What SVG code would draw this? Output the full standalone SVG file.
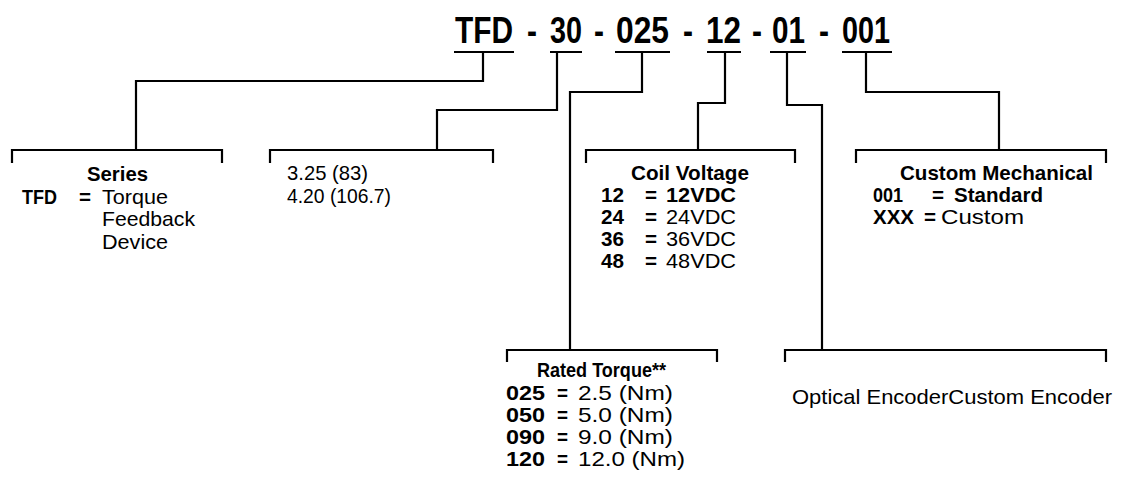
<svg xmlns="http://www.w3.org/2000/svg" width="1131" height="490" viewBox="0 0 1131 490">
<style>
text{font-family:"Liberation Sans",Arial,sans-serif;font-size:21px;fill:#000}
.h{font-size:37px;font-weight:bold}
.b{font-weight:bold}
.ln{fill:none;stroke:#000;stroke-width:2.2;stroke-linecap:butt;stroke-linejoin:miter}
</style>
<rect width="1131" height="490" fill="#fff"/>
<g id="header">
<text class="h" x="455" y="43" textLength="58" lengthAdjust="spacingAndGlyphs">TFD</text>
<text class="h" x="532" y="43" text-anchor="middle" textLength="10" lengthAdjust="spacingAndGlyphs">-</text>
<text class="h" x="550" y="43" textLength="32" lengthAdjust="spacingAndGlyphs">30</text>
<text class="h" x="599" y="43" text-anchor="middle" textLength="10" lengthAdjust="spacingAndGlyphs">-</text>
<text class="h" x="616" y="43" textLength="53" lengthAdjust="spacingAndGlyphs">025</text>
<text class="h" x="688" y="43" text-anchor="middle" textLength="10" lengthAdjust="spacingAndGlyphs">-</text>
<text class="h" x="706" y="43" textLength="35" lengthAdjust="spacingAndGlyphs">12</text>
<text class="h" x="757" y="43" text-anchor="middle" textLength="10" lengthAdjust="spacingAndGlyphs">-</text>
<text class="h" x="772" y="43" textLength="33" lengthAdjust="spacingAndGlyphs">01</text>
<text class="h" x="824" y="43" text-anchor="middle" textLength="10" lengthAdjust="spacingAndGlyphs">-</text>
<text class="h" x="842" y="43" textLength="48" lengthAdjust="spacingAndGlyphs">001</text>
</g>
<g id="connectors" class="ln">
<path class="ln" d="M454,52H514M550,52H582M615,52H670M707,52H741M770,52H806M842,52H892"/>
<path class="ln" d="M483,52V81H136V150"/>
<path class="ln" d="M557,52V110H437V150"/>
<path class="ln" d="M642,52V92H570V350"/>
<path class="ln" d="M725,52V103H698V150"/>
<path class="ln" d="M787,52V105H822V350"/>
<path class="ln" d="M866,52V92H999V150"/>
</g>
<g id="series">
<path class="ln" d="M12,163V150H222V163"/>
<text class="b" x="87" y="181" textLength="61" lengthAdjust="spacingAndGlyphs">Series</text>
<text class="b" x="22" y="204" textLength="35" lengthAdjust="spacingAndGlyphs">TFD</text>
<text class="b" x="79" y="204" textLength="12" lengthAdjust="spacingAndGlyphs">=</text>
<text x="102" y="204" textLength="66" lengthAdjust="spacingAndGlyphs">Torque</text>
<text x="102" y="226" textLength="93" lengthAdjust="spacingAndGlyphs">Feedback</text>
<text x="102" y="249" textLength="66" lengthAdjust="spacingAndGlyphs">Device</text>
</g>
<g id="size">
<path class="ln" d="M270,163V150H493V163"/>
<text x="287" y="180" textLength="81" lengthAdjust="spacingAndGlyphs">3.25 (83)</text>
<text x="287" y="203" textLength="104" lengthAdjust="spacingAndGlyphs">4.20 (106.7)</text>
</g>
<g id="coil-voltage">
<path class="ln" d="M586,163V150H795V163"/>
<text class="b" x="631" y="180" textLength="118" lengthAdjust="spacingAndGlyphs">Coil Voltage</text>
<text class="b" x="601" y="202" textLength="23" lengthAdjust="spacingAndGlyphs">12</text>
<text class="b" x="645" y="202" textLength="12" lengthAdjust="spacingAndGlyphs">=</text>
<text class="b" x="666" y="202" textLength="70" lengthAdjust="spacingAndGlyphs">12VDC</text>
<text class="b" x="601" y="224" textLength="23" lengthAdjust="spacingAndGlyphs">24</text>
<text class="b" x="645" y="224" textLength="12" lengthAdjust="spacingAndGlyphs">=</text>
<text x="666" y="224" textLength="70" lengthAdjust="spacingAndGlyphs">24VDC</text>
<text class="b" x="601" y="246" textLength="23" lengthAdjust="spacingAndGlyphs">36</text>
<text class="b" x="645" y="246" textLength="12" lengthAdjust="spacingAndGlyphs">=</text>
<text x="666" y="246" textLength="70" lengthAdjust="spacingAndGlyphs">36VDC</text>
<text class="b" x="601" y="268" textLength="23" lengthAdjust="spacingAndGlyphs">48</text>
<text class="b" x="645" y="268" textLength="12" lengthAdjust="spacingAndGlyphs">=</text>
<text x="666" y="268" textLength="70" lengthAdjust="spacingAndGlyphs">48VDC</text>
</g>
<g id="custom-mechanical">
<path class="ln" d="M856,163V150H1106V163"/>
<text class="b" x="900" y="180" textLength="193" lengthAdjust="spacingAndGlyphs">Custom Mechanical</text>
<text class="b" x="873" y="202" textLength="30" lengthAdjust="spacingAndGlyphs">001</text>
<text class="b" x="932" y="202" textLength="12" lengthAdjust="spacingAndGlyphs">=</text>
<text class="b" x="954" y="202" textLength="89" lengthAdjust="spacingAndGlyphs">Standard</text>
<text class="b" x="873" y="224" textLength="41" lengthAdjust="spacingAndGlyphs">XXX</text>
<text class="b" x="924" y="224" textLength="12" lengthAdjust="spacingAndGlyphs">=</text>
<text x="941" y="224" textLength="83" lengthAdjust="spacingAndGlyphs">Custom</text>
</g>
<g id="rated-torque">
<path class="ln" d="M507,362V350H717V362"/>
<text class="b" x="537" y="377" textLength="129" lengthAdjust="spacingAndGlyphs">Rated Torque**</text>
<text class="b" x="506" y="400" textLength="39" lengthAdjust="spacingAndGlyphs">025</text>
<text class="b" x="557" y="400" textLength="11" lengthAdjust="spacingAndGlyphs">=</text>
<text x="578" y="400" textLength="95" lengthAdjust="spacingAndGlyphs">2.5 (Nm)</text>
<text class="b" x="506" y="422" textLength="39" lengthAdjust="spacingAndGlyphs">050</text>
<text class="b" x="557" y="422" textLength="11" lengthAdjust="spacingAndGlyphs">=</text>
<text x="578" y="422" textLength="95" lengthAdjust="spacingAndGlyphs">5.0 (Nm)</text>
<text class="b" x="506" y="444" textLength="39" lengthAdjust="spacingAndGlyphs">090</text>
<text class="b" x="557" y="444" textLength="11" lengthAdjust="spacingAndGlyphs">=</text>
<text x="578" y="444" textLength="95" lengthAdjust="spacingAndGlyphs">9.0 (Nm)</text>
<text class="b" x="506" y="466" textLength="39" lengthAdjust="spacingAndGlyphs">120</text>
<text class="b" x="557" y="466" textLength="11" lengthAdjust="spacingAndGlyphs">=</text>
<text x="578" y="466" textLength="107" lengthAdjust="spacingAndGlyphs">12.0 (Nm)</text>
</g>
<g id="encoder">
<path class="ln" d="M785,362V350H1106V362"/>
<text x="792" y="404" textLength="320" lengthAdjust="spacingAndGlyphs">Optical EncoderCustom Encoder</text>
</g>
</svg>
